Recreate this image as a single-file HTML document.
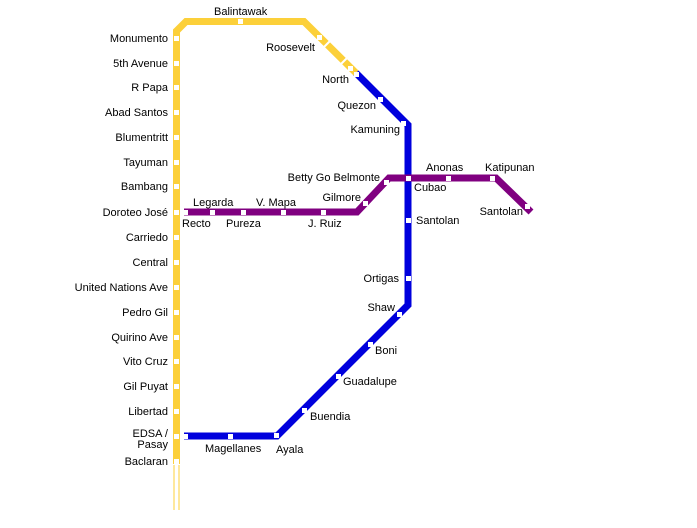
<!DOCTYPE html>
<html><head><meta charset="utf-8"><style>
html,body{margin:0;padding:0;background:#fff;}
svg{display:block;}
text{font-family:"Liberation Sans",sans-serif;font-size:11px;fill:#000;}
</style></head><body>
<svg width="697" height="528" viewBox="0 0 697 528" xmlns="http://www.w3.org/2000/svg">
<g fill="none" stroke-linejoin="miter">
<line x1="174" y1="465" x2="174" y2="510" stroke="#fcd03a" stroke-width="1"/>
<line x1="179" y1="465" x2="179" y2="510" stroke="#fcd03a" stroke-width="1"/>
<polyline points="176.5,464 176.5,31 186,21.5 304,21.5 356,73" stroke="#fcd03a" stroke-width="7"/>
<line x1="322" y1="49" x2="331" y2="40" stroke="#fff" stroke-width="2"/>
<line x1="339" y1="66" x2="348" y2="57" stroke="#fff" stroke-width="2"/>
<polyline points="356,73 408,125 408,305 277,436 184,436" stroke="#0000dd" stroke-width="7"/>
<polyline points="184,212 357,212 389,178 496,178 531,212" stroke="#800080" stroke-width="7"/>
</g>
<g fill="#fff">
<rect x="174" y="36" width="5" height="5"/><rect x="174" y="61" width="5" height="5"/>
<rect x="174" y="85" width="5" height="5"/><rect x="174" y="110" width="5" height="5"/>
<rect x="174" y="135" width="5" height="5"/><rect x="174" y="160" width="5" height="5"/>
<rect x="174" y="184" width="5" height="5"/><rect x="174" y="210" width="5" height="5"/>
<rect x="174" y="235" width="5" height="5"/><rect x="174" y="260" width="5" height="5"/>
<rect x="174" y="285" width="5" height="5"/><rect x="174" y="310" width="5" height="5"/>
<rect x="174" y="335" width="5" height="5"/><rect x="174" y="359" width="5" height="5"/>
<rect x="174" y="384" width="5" height="5"/><rect x="174" y="409" width="5" height="5"/>
<rect x="174" y="434" width="5" height="5"/><rect x="174" y="459" width="5" height="5"/>
<rect x="238" y="19" width="5" height="5"/><rect x="317" y="35" width="5" height="5"/>
<rect x="348" y="66" width="5" height="5"/><rect x="354" y="72" width="5" height="5"/>
<rect x="378" y="97" width="5" height="5"/><rect x="401" y="121" width="5" height="5"/>
<rect x="406" y="176" width="5" height="5"/><rect x="406" y="218" width="5" height="5"/>
<rect x="406" y="276" width="5" height="5"/><rect x="397" y="312" width="5" height="5"/>
<rect x="368" y="342" width="5" height="5"/><rect x="336" y="374" width="5" height="5"/>
<rect x="302" y="408" width="5" height="5"/><rect x="274" y="433" width="5" height="5"/>
<rect x="228" y="434" width="5" height="5"/><rect x="183" y="434" width="5" height="5"/>
<rect x="183" y="210" width="5" height="5"/><rect x="210" y="210" width="5" height="5"/>
<rect x="241" y="210" width="5" height="5"/><rect x="281" y="210" width="5" height="5"/>
<rect x="321" y="210" width="5" height="5"/><rect x="363" y="201" width="5" height="5"/>
<rect x="384" y="180" width="5" height="5"/><rect x="446" y="176" width="5" height="5"/>
<rect x="490" y="176" width="5" height="5"/><rect x="525" y="204" width="5" height="5"/>
</g>
<g text-anchor="end">
<text x="168" y="42">Monumento</text><text x="168" y="67">5th Avenue</text>
<text x="168" y="91">R Papa</text><text x="168" y="116">Abad Santos</text>
<text x="168" y="141">Blumentritt</text><text x="168" y="166">Tayuman</text>
<text x="168" y="190">Bambang</text><text x="168" y="216">Doroteo José</text>
<text x="168" y="241">Carriedo</text><text x="168" y="266">Central</text>
<text x="168" y="291">United Nations Ave</text><text x="168" y="316">Pedro Gil</text>
<text x="168" y="341">Quirino Ave</text><text x="168" y="365">Vito Cruz</text>
<text x="168" y="390">Gil Puyat</text><text x="168" y="415">Libertad</text>
<text x="168" y="437">EDSA /</text><text x="168" y="448">Pasay</text>
<text x="168" y="465">Baclaran</text>
<text x="315" y="51">Roosevelt</text><text x="349" y="83">North</text>
<text x="376" y="109">Quezon</text><text x="400" y="133">Kamuning</text>
<text x="380" y="181">Betty Go Belmonte</text><text x="361" y="201">Gilmore</text>
<text x="399" y="282">Ortigas</text><text x="395" y="311">Shaw</text>
<text x="523" y="215">Santolan</text>
</g>
<text x="214" y="15">Balintawak</text>
<text x="193" y="206">Legarda</text><text x="256" y="206">V. Mapa</text>
<text x="182" y="227">Recto</text><text x="226" y="227">Pureza</text>
<text x="308" y="227">J. Ruiz</text>
<text x="426" y="171">Anonas</text><text x="485" y="171">Katipunan</text>
<text x="414" y="191">Cubao</text><text x="416" y="224">Santolan</text>
<text x="375" y="354">Boni</text><text x="343" y="385">Guadalupe</text>
<text x="310" y="420">Buendia</text><text x="276" y="453">Ayala</text>
<text x="205" y="452">Magellanes</text>
</svg>
</body></html>
